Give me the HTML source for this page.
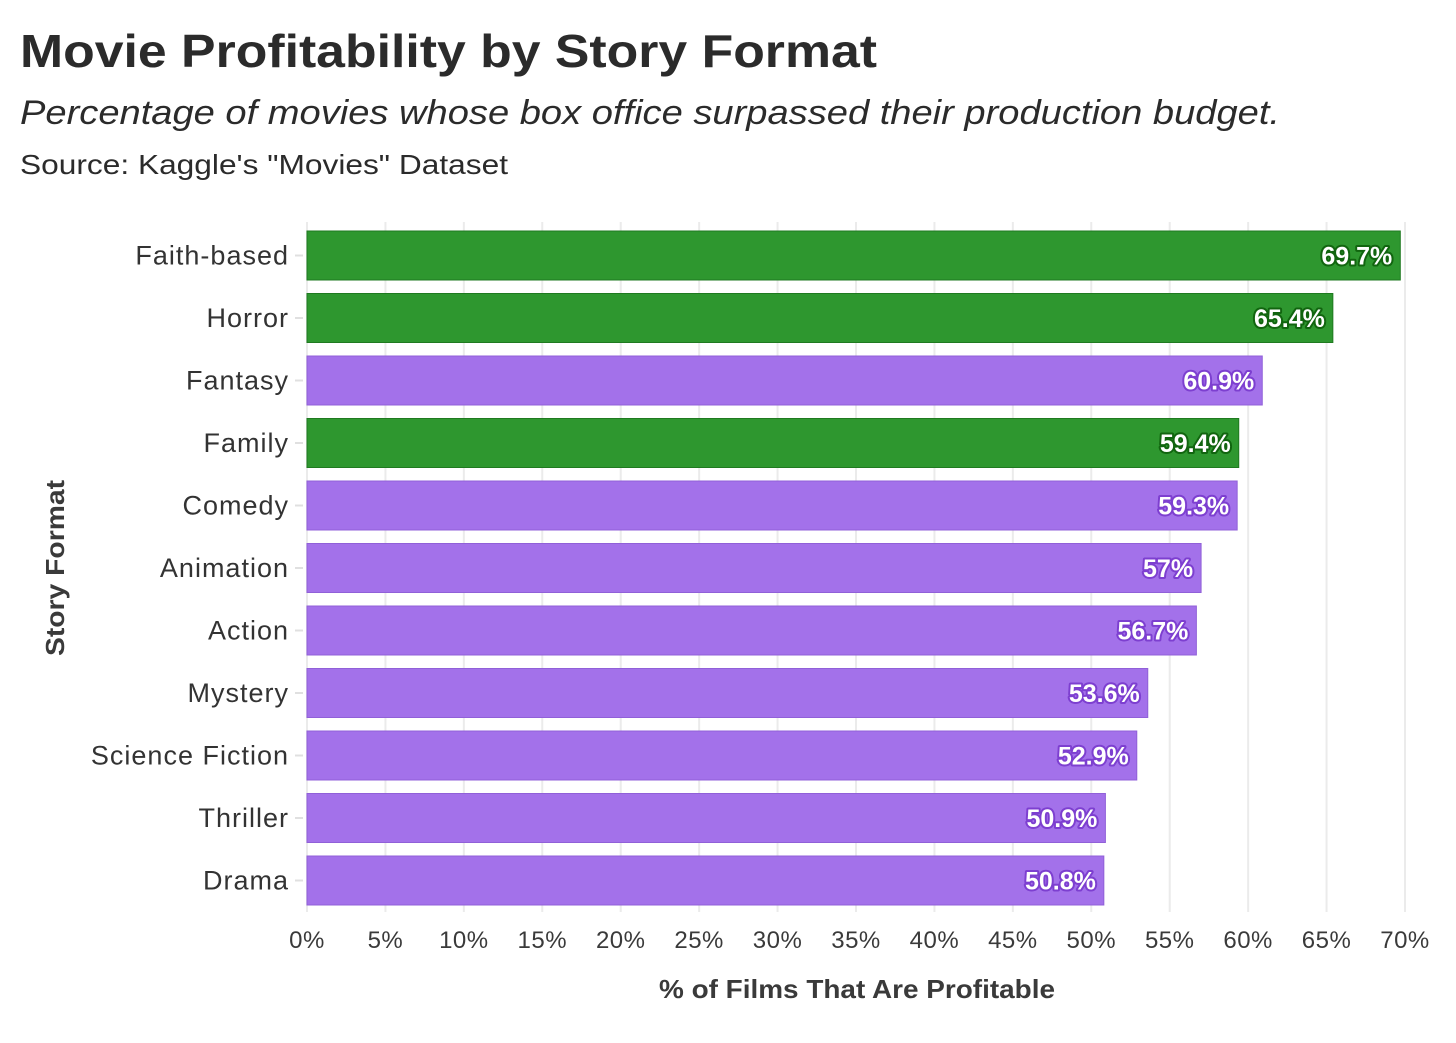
<!DOCTYPE html>
<html><head><meta charset="utf-8">
<style>
html,body{margin:0;padding:0;background:#fff;}
svg{display:block;font-family:"Liberation Sans",sans-serif;}
</style></head>
<body>
<svg id="chart" width="1456" height="1043" viewBox="0 0 1456 1043">
<text x="20" y="67" font-size="46" font-weight="bold" fill="#2b2b2b" textLength="857" lengthAdjust="spacingAndGlyphs">Movie Profitability by Story Format</text>
<text x="20" y="124" font-size="34" font-style="italic" fill="#2b2b2b" textLength="1260" lengthAdjust="spacingAndGlyphs">Percentage of movies whose box office surpassed their production budget.</text>
<text x="20" y="174" font-size="28" fill="#2b2b2b" textLength="488" lengthAdjust="spacingAndGlyphs">Source: Kaggle's "Movies" Dataset</text>
<g id="grid"></g>
<g id="bars"></g>
<g id="ylabels"></g>
<g id="xlabels"></g>
<text x="857" y="998" font-size="26" font-weight="bold" fill="#3a3a3a" text-anchor="middle" textLength="396" lengthAdjust="spacingAndGlyphs">% of Films That Are Profitable</text>
<text transform="translate(64,568) rotate(-90)" font-size="26" font-weight="bold" fill="#3a3a3a" text-anchor="middle" textLength="176" lengthAdjust="spacingAndGlyphs">Story Format</text>
</svg>
<script>
const categories = ["Faith-based","Horror","Fantasy","Family","Comedy","Animation","Action","Mystery","Science Fiction","Thriller","Drama"];
const values = [69.7,65.4,60.9,59.4,59.3,57,56.7,53.6,52.9,50.9,50.8];
const highlighted = [true,true,false,true,false,false,false,false,false,false,false];
const valueLabels = ["69.7%","65.4%","60.9%","59.4%","59.3%","57%","56.7%","53.6%","52.9%","50.9%","50.8%"];
const xTicks = [0,5,10,15,20,25,30,35,40,45,50,55,60,65,70];

const NS="http://www.w3.org/2000/svg";
const x0=307, x1=1405, xMax=70;
const xs=v=>x0+(v/xMax)*(x1-x0);
const yTop=255.5, step=(880.5-255.5)/(categories.length-1), barH=49;
const ys=i=>yTop+i*step;
function mk(tag,attrs,parent){const e=document.createElementNS(NS,tag);for(const k in attrs)e.setAttribute(k,attrs[k]);parent.appendChild(e);return e;}
const grid=document.getElementById('grid'),bars=document.getElementById('bars'),yl=document.getElementById('ylabels'),xl=document.getElementById('xlabels');
xTicks.forEach(t=>{
  const l=mk('line',{x1:xs(t),x2:xs(t),y1:222,y2:912,stroke:'#ebebeb','stroke-width':2},grid);
  
  
  const tx=mk('text',{x:xs(t),y:948,'font-size':24,fill:'#3a3a3a','text-anchor':'middle','letter-spacing':0.5},xl);
  tx.textContent=t+'%';
  
  
});
categories.forEach((c,i)=>{
  const y=ys(i);
  const tk=mk('line',{x1:295,x2:303,y1:y,y2:y,stroke:'#e0e0e0','stroke-width':2},yl);
  
  
  const lb=mk('text',{x:289,y:y+9,'font-size':27,fill:'#333','text-anchor':'end','letter-spacing':1},yl);
  lb.textContent=c;
  
  
  const fill=highlighted[i]?'#2e972f':'#a371ea', edge=highlighted[i]?'#1f7a20':'#9060d8';
  const r=mk('rect',{x:x0,y:y-barH/2,width:xs(values[i])-x0,height:barH,fill:fill,stroke:edge,'stroke-width':1},bars);
  
  
  const vt=mk('text',{x:xs(values[i])-8,y:y+9,'font-size':25,'font-weight':'bold',fill:'#fff','text-anchor':'end',stroke:highlighted[i]?'#11650f':'#7d3fd0','stroke-width':4,'paint-order':'stroke','stroke-linejoin':'round'},bars);
  vt.textContent=valueLabels[i];
  
  
});
</script>
</body></html>
